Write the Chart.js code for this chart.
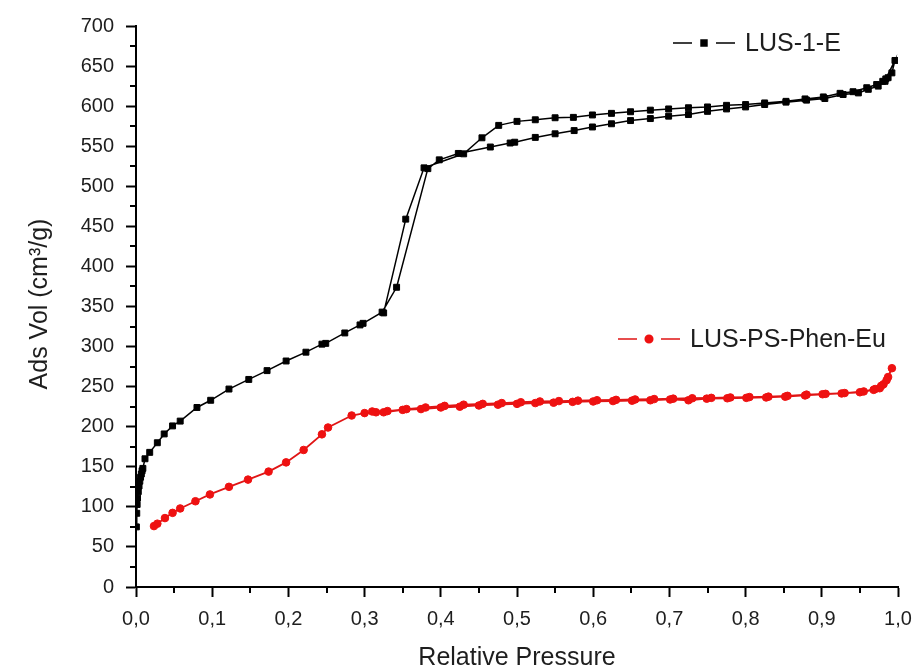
<!DOCTYPE html>
<html>
<head>
<meta charset="utf-8">
<title>N2 adsorption isotherms</title>
<script src="https://cdn.jsdelivr.net/npm/chart.js@4.4.0/dist/chart.umd.min.js"></script>
<style>
  html, body { margin: 0; padding: 0; background: #fff; }
  #wrap { width: 913px; height: 669px; }
</style>
</head>
<body>
<div id="wrap"><canvas id="chart" width="913" height="669"></canvas></div>
<script>
// ------------------- AXES -------------------
const xTicks = [0, 0.1, 0.2, 0.3, 0.4, 0.5, 0.6, 0.7, 0.8, 0.9, 1.0];
const xTickLabels = ["0,0", "0,1", "0,2", "0,3", "0,4", "0,5", "0,6", "0,7", "0,8", "0,9", "1,0"];
const yTicks = [0, 50, 100, 150, 200, 250, 300, 350, 400, 450, 500, 550, 600, 650, 700];
const yTickLabels = ["0", "50", "100", "150", "200", "250", "300", "350", "400", "450", "500", "550", "600", "650", "700"];

const xTitle = "Relative Pressure";
const yTitle = "Ads Vol (cm³/g)";
const seriesNames = ["LUS-1-E", "LUS-PS-Phen-Eu"];

// ------------------- LUS-1-E -------------------
// adsorption branch
const lus1AdsP = [0.0005, 0.001, 0.0015, 0.002, 0.003, 0.004, 0.005, 0.006, 0.007, 0.008, 0.009,
  0.0118, 0.018, 0.028, 0.037, 0.048, 0.058, 0.080, 0.098, 0.122, 0.148, 0.172, 0.197, 0.223,
  0.244, 0.249, 0.274, 0.294, 0.298, 0.323, 0.342, 0.383, 0.398, 0.423, 0.465, 0.491, 0.497,
  0.524, 0.550, 0.575, 0.599, 0.624, 0.649, 0.675, 0.699, 0.725, 0.750, 0.775, 0.800, 0.825,
  0.853, 0.880, 0.904, 0.928, 0.948, 0.961, 0.974, 0.983, 0.987, 0.992, 0.996];
const lus1AdsV = [75, 92, 103, 111, 119, 126, 132, 137, 141, 145, 148,
  160, 168, 180, 191, 201, 207, 224, 233, 247, 259, 270, 282, 293,
  303, 304, 317, 327, 329, 343, 374, 522, 533, 541, 549, 554, 555,
  561, 565.5, 569.5, 574, 578, 582, 584.5, 587.5, 589.5, 593.5, 596.5, 599, 602,
  605, 607.5, 609.5, 614.5, 616.5, 621, 625, 631, 635.5, 641.5, 657];
// desorption branch
const lus1DesP = [0.984, 0.980, 0.972, 0.959, 0.941, 0.924, 0.902, 0.878, 0.853, 0.825, 0.800,
  0.775, 0.750, 0.725, 0.699, 0.675, 0.649, 0.624, 0.599, 0.574, 0.550, 0.524, 0.500, 0.476,
  0.454, 0.430, 0.378, 0.354, 0.325];
const lus1DesV = [634, 631, 627, 623, 618, 616, 611.5, 609, 606, 604, 602,
  601, 599, 598, 596.5, 595, 593, 591, 589, 586, 585.5, 583, 581, 576,
  560.5, 540.5, 523, 459, 342];

// ------------------- LUS-PS-Phen-Eu -------------------
const lusPsAdsP = [0.0236, 0.028, 0.038, 0.048, 0.058, 0.078, 0.097, 0.122, 0.147, 0.174, 0.197,
  0.220, 0.244, 0.252, 0.283, 0.300, 0.315, 0.325, 0.350, 0.374, 0.400, 0.425, 0.450, 0.475,
  0.500, 0.524, 0.548, 0.573, 0.600, 0.626, 0.651, 0.675, 0.701, 0.725, 0.749, 0.776, 0.801,
  0.827, 0.852, 0.878, 0.901, 0.926, 0.950, 0.968, 0.976, 0.981, 0.987, 0.992];
const lusPsAdsV = [76, 79, 86, 92.5, 98, 107, 115.5, 125, 134, 144, 155.5,
  171, 190.5, 199, 214, 217, 218, 218, 221, 222, 224, 225, 226.5, 227.5,
  228.5, 229.5, 230, 231, 231.5, 232, 232.5, 233, 234, 233, 235, 235.5, 236,
  236.5, 237.5, 239, 240.5, 241.5, 243, 246, 248, 253, 262, 273];
const lusPsDesP = [0.985, 0.978, 0.970, 0.955, 0.930, 0.905, 0.880, 0.855, 0.830, 0.805, 0.780,
  0.755, 0.730, 0.705, 0.680, 0.655, 0.630, 0.605, 0.580, 0.555, 0.530, 0.505, 0.480, 0.455,
  0.430, 0.405, 0.380, 0.355, 0.330, 0.310];
const lusPsDesV = [258, 251, 247, 244, 242, 241, 240, 238.5, 237.5, 237, 236.5,
  236, 235.5, 235, 234.5, 234, 233.5, 233, 232.5, 232, 231.5, 230.5, 229.5, 228.5,
  227.5, 226, 224, 222, 219.5, 219];

// ------------------- HELPERS -------------------
const toPoints = (p, v) => p.map((x, i) => ({ x: x, y: v[i] }));
const FONT = "'Liberation Sans', Arial, sans-serif";
const TEXT = "#1e1e1e";

// minor ticks halfway between the labelled ones
const minorTicks = {
  id: "minorTicks",
  afterDraw(chart) {
    const { ctx, chartArea, scales } = chart;
    ctx.save();
    ctx.strokeStyle = "#000";
    ctx.lineWidth = 2;
    ctx.beginPath();
    for (let i = 0; i < xTicks.length - 1; i++) {
      const px = Math.round(scales.x.getPixelForValue((xTicks[i] + xTicks[i + 1]) / 2));
      ctx.moveTo(px, chartArea.bottom);
      ctx.lineTo(px, chartArea.bottom + 6);
    }
    for (let i = 0; i < yTicks.length - 1; i++) {
      const py = Math.round(scales.y.getPixelForValue((yTicks[i] + yTicks[i + 1]) / 2));
      ctx.moveTo(chartArea.left, py);
      ctx.lineTo(chartArea.left - 6, py);
    }
    ctx.stroke();
    ctx.restore();
  }
};

// axis titles
const axisTitles = {
  id: "axisTitles",
  afterDraw(chart) {
    const { ctx, chartArea } = chart;
    ctx.save();
    ctx.fillStyle = TEXT;
    ctx.font = "25px " + FONT;
    ctx.textAlign = "center";
    ctx.textBaseline = "middle";
    ctx.fillText(xTitle, (chartArea.left + chartArea.right) / 2, 658);
    ctx.translate(40, 304);
    ctx.rotate(-Math.PI / 2);
    ctx.fillText(yTitle, 0, 0);
    ctx.restore();
  }
};

// legend entries placed inside the plot: "— symbol —  name"
const insideLegend = {
  id: "insideLegend",
  afterDraw(chart, args, opts) {
    const { ctx } = chart;
    opts.items.forEach((item, i) => {
      const ds = chart.data.datasets[i];
      ctx.save();
      ctx.strokeStyle = ds.borderColor;
      ctx.lineWidth = 1.5;
      ctx.beginPath();
      ctx.moveTo(item.x, item.y);
      ctx.lineTo(item.x + 19, item.y);
      ctx.moveTo(item.x + 43, item.y);
      ctx.lineTo(item.x + 62, item.y);
      ctx.stroke();
      ctx.fillStyle = ds.pointBackgroundColor;
      ctx.strokeStyle = ds.pointBackgroundColor;
      Chart.helpers.drawPoint(ctx, {
        pointStyle: ds.pointStyle, radius: ds.pointRadius, borderWidth: 1, rotation: 0
      }, item.x + 31, item.y);
      ctx.fillStyle = TEXT;
      ctx.font = "25px " + FONT;
      ctx.textAlign = "left";
      ctx.textBaseline = "middle";
      ctx.fillText(ds.label, item.x + 72, item.y + 1);
      ctx.restore();
    });
  }
};

// ------------------- CHART -------------------
const ctx = document.getElementById("chart").getContext("2d");
new Chart(ctx, {
  type: "scatter",
  data: {
    datasets: [
      {
        label: seriesNames[0],
        data: toPoints(lus1AdsP, lus1AdsV).concat(toPoints(lus1DesP, lus1DesV)),
        showLine: true,
        borderColor: "#000",
        borderWidth: 1.5,
        pointStyle: "rect",
        pointRadius: 4.2,
        pointBackgroundColor: "#000",
        pointBorderColor: "#000",
        pointBorderWidth: 1
      },
      {
        label: seriesNames[1],
        data: toPoints(lusPsAdsP, lusPsAdsV).concat(toPoints(lusPsDesP, lusPsDesV)),
        showLine: true,
        borderColor: "#e01515",
        borderWidth: 1.8,
        pointStyle: "circle",
        pointRadius: 3.8,
        pointBackgroundColor: "#ee1111",
        pointBorderColor: "#ee1111",
        pointBorderWidth: 1
      }
    ]
  },
  options: {
    responsive: false,
    animation: false,
    layout: { padding: { left: 0, right: 15, top: 26, bottom: 0 } },
    plugins: {
      legend: { display: false },
      tooltip: { enabled: false },
      insideLegend: {
        items: [
          { x: 673, y: 43 },
          { x: 618, y: 339 }
        ]
      }
    },
    scales: {
      x: {
        type: "linear",
        min: 0,
        max: 1,
        afterBuildTicks: s => { s.ticks = xTicks.map(v => ({ value: v })); },
        afterFit: s => { s.height = 82; s.paddingLeft = 0; s.paddingRight = 0; },
        ticks: {
          callback: (v, i) => xTickLabels[i],
          autoSkip: false,
          maxRotation: 0,
          color: TEXT,
          padding: 10,
          font: { family: FONT, size: 20 }
        },
        grid: { drawOnChartArea: false, tickLength: 10, tickWidth: 2, tickColor: "#000" },
        border: { color: "#000", width: 2 }
      },
      y: {
        type: "linear",
        min: 0,
        max: 700,
        afterBuildTicks: s => { s.ticks = yTicks.map(v => ({ value: v })); },
        afterFit: s => { s.width = 136; },
        ticks: {
          callback: (v, i) => yTickLabels[i],
          autoSkip: false,
          color: TEXT,
          padding: 12,
          font: { family: FONT, size: 20 }
        },
        grid: { drawOnChartArea: false, tickLength: 10, tickWidth: 2, tickColor: "#000" },
        border: { color: "#000", width: 2 }
      }
    }
  },
  plugins: [minorTicks, axisTitles, insideLegend]
});
</script>
</body>
</html>
